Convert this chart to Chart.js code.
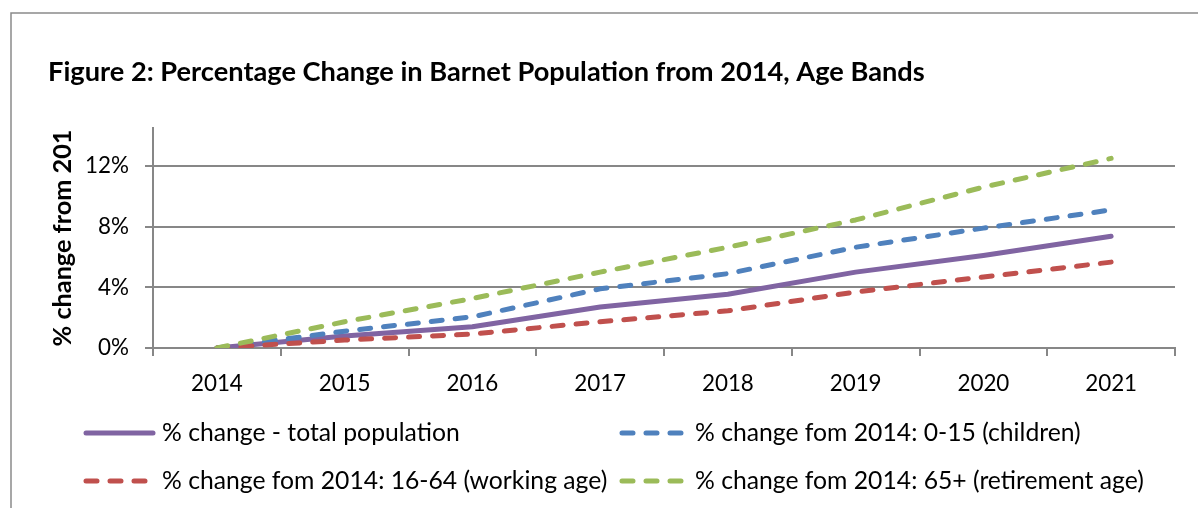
<!DOCTYPE html>
<html><head><meta charset="utf-8">
<script src="https://cdn.jsdelivr.net/npm/chart.js@4.4.1/dist/chart.umd.min.js"></script>
<style>html,body{margin:0;padding:0;background:#fff}#wrap{position:relative;width:1198px;height:508px}</style>
</head><body><div id="wrap"><canvas id="c"></canvas></div>
<script>
// ---- data ----
const categories = ['2014','2015','2016','2017','2018','2019','2020','2021'];
const totalPopulation = [0, 0.79, 1.40, 2.70, 3.54, 5.00, 6.10, 7.36];
const children0to15 = [0, 1.11, 2.05, 3.90, 4.90, 6.64, 7.90, 9.10];
const workingAge16to64 = [0, 0.52, 0.92, 1.73, 2.45, 3.69, 4.68, 5.66];
const retirement65plus = [0, 1.73, 3.26, 5.00, 6.64, 8.44, 10.60, 12.50];
const seriesLabels = [
  '% change - total population',
  '% change fom 2014: 0-15 (children)',
  '% change fom 2014: 16-64 (working age)',
  '% change fom 2014: 65+ (retirement age)'
];
const yTickValues = [0, 4, 8, 12];
const chartTitle = 'Figure 2: Percentage Change in Barnet Population from 2014, Age Bands';
const yAxisTitle = '% change from 201';

// ---- font fitting ----
const FAM = 'Lato, "Open Sans", "DejaVu Sans", sans-serif';
const mctx = document.createElement('canvas').getContext('2d');
function fit(text, weight, target) {
  mctx.font = weight + ' 100px ' + FAM;
  return 100 * target / mctx.measureText(text).width;
}
const titleSize = fit(chartTitle, 'bold', 877);
const tickSize = fit('2014', 'normal', 52);
const legendSize = fit(seriesLabels[0], 'normal', 298);
const yTitleSize = fit(yAxisTitle, 'bold', 217);

const GRID = '#878787';
const titleLH = titleSize * 1.2;
const titlePadTop = 72 - titleLH / 2;
const titlePadBottom = 128 - titlePadTop - titleLH;

const framePlugin = {
  id: 'frame',
  beforeDraw(chart) {
    const ctx = chart.ctx;
    ctx.save();
    ctx.strokeStyle = '#8a8a8a';
    ctx.lineWidth = 1.5;
    ctx.beginPath();
    ctx.moveTo(11, 508); ctx.lineTo(11, 13); ctx.lineTo(1198, 13);
    ctx.stroke();
    ctx.restore();
  }
};

const legendPlugin = {
  id: 'colLegend',
  afterDraw(chart) {
    const ctx = chart.ctx;
    const sampleStart = [86, 622], solidEnd = [153, 682], dashEnd = [146, 682];
    const textX = [162, 695], rowY = [433, 481];
    chart.data.datasets.forEach((ds, i) => {
      const c = i % 2, r = Math.floor(i / 2);
      const dashed = ds.borderDash && ds.borderDash.length;
      ctx.save();
      ctx.strokeStyle = ds.borderColor;
      ctx.lineWidth = ds.borderWidth;
      ctx.lineCap = 'round';
      ctx.setLineDash(ds.borderDash || []);
      ctx.beginPath();
      ctx.moveTo(sampleStart[c], rowY[r]);
      ctx.lineTo(dashed ? dashEnd[c] : solidEnd[c], rowY[r]);
      ctx.stroke();
      ctx.setLineDash([]);
      ctx.fillStyle = '#000';
      ctx.font = legendSize + 'px ' + FAM;
      ctx.textBaseline = 'middle';
      ctx.textAlign = 'left';
      ctx.fillText(ds.label, textX[c], rowY[r]);
      ctx.restore();
    });
  }
};

const mk = (label, data, color, dash, order) => ({
  label, data, borderColor: color, backgroundColor: color, borderWidth: 5,
  borderDash: dash, borderCapStyle: 'round', borderJoinStyle: 'round',
  pointRadius: 0, pointHoverRadius: 0, tension: 0, fill: false, order
});

new Chart(document.getElementById('c'), {
  type: 'line',
  data: {
    labels: categories,
    datasets: [
      mk(seriesLabels[0], totalPopulation, '#8064A2', [], 4),
      mk(seriesLabels[1], children0to15, '#4F81BD', [11, 13], 3),
      mk(seriesLabels[2], workingAge16to64, '#C0504D', [11, 13], 2),
      mk(seriesLabels[3], retirement65plus, '#9BBB59', [11, 13], 1)
    ]
  },
  options: {
    responsive: true,
    maintainAspectRatio: false,
    animation: false,
    layout: { padding: { left: 48, right: 23, top: 0, bottom: 0 } },
    plugins: {
      legend: { display: false },
      tooltip: { enabled: false },
      title: {
        display: true, text: chartTitle, align: 'start', color: '#000',
        font: { family: FAM, size: titleSize, weight: 'bold' },
        padding: { top: titlePadTop, bottom: titlePadBottom }
      }
    },
    scales: {
      x: {
        offset: true,
        grid: { display: true, drawOnChartArea: false, drawTicks: true, tickLength: 8, color: GRID, lineWidth: 2, offset: true },
        border: { display: true, color: GRID, width: 2 },
        ticks: { color: '#000', padding: 14, maxRotation: 0, font: { family: FAM, size: tickSize } },
        afterFit(s) { s.height = 160; }
      },
      y: {
        min: 0, max: 14.5,
        afterBuildTicks(s) { s.ticks = yTickValues.map(v => ({ value: v })); },
        grid: { color: GRID, lineWidth: 2, tickLength: 8, drawTicks: true },
        border: { display: true, color: GRID, width: 2 },
        ticks: { color: '#000', padding: 16, includeBounds: false, font: { family: FAM, size: tickSize }, callback: v => v + '%' },
        title: { display: true, text: yAxisTitle, color: '#000', padding: { top: 0, bottom: 0 }, font: { family: FAM, size: yTitleSize, weight: 'bold' } },
        afterFit(s) { s.width = 105; }
      }
    }
  },
  plugins: [framePlugin, legendPlugin]
});
</script>
</body></html>
